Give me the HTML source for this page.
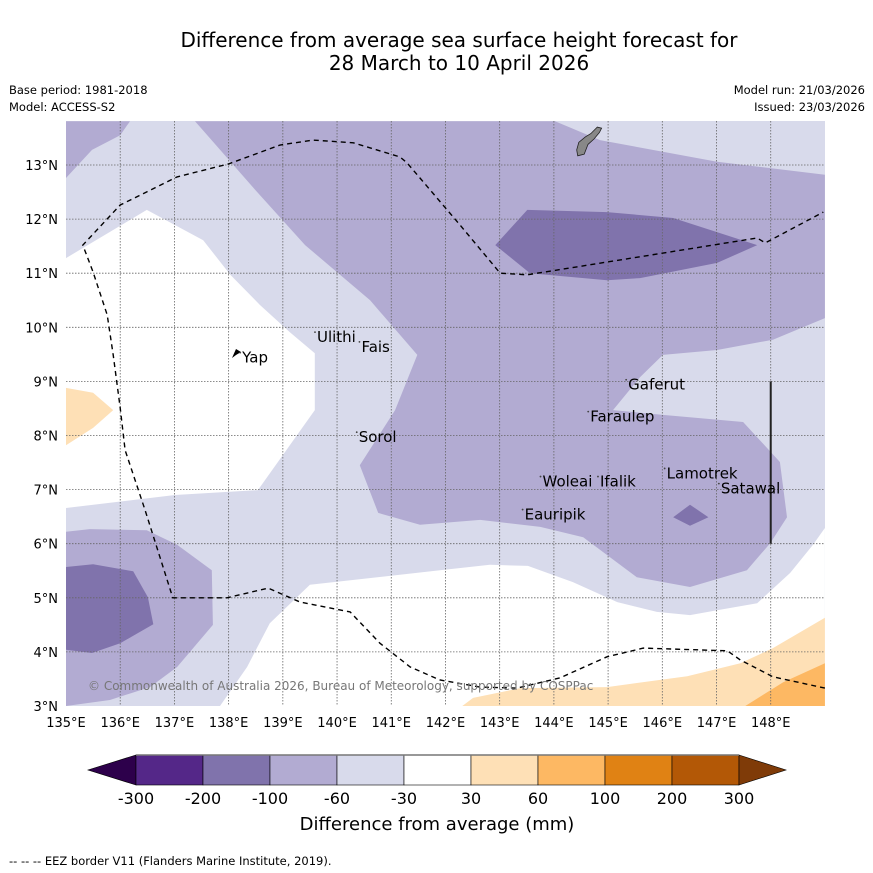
<!DOCTYPE html>
<html><head><meta charset="utf-8"><style>
body{margin:0;background:#fff;font-family:"Liberation Sans","DejaVu Sans",sans-serif;}
svg{display:block}
</style></head><body>
<svg id="chart" width="873" height="873" viewBox="0 0 873 873" font-family="DejaVu Sans, Liberation Sans, sans-serif">
<text x="459" y="47" text-anchor="middle" font-size="20">Difference from average sea surface height forecast for</text>
<text x="459" y="70" text-anchor="middle" font-size="20">28 March to 10 April 2026</text>
<text x="9" y="94" font-size="11.5">Base period: 1981-2018</text>
<text x="9" y="111" font-size="11.5">Model: ACCESS-S2</text>
<text x="865" y="94" font-size="11.5" text-anchor="end">Model run: 21/03/2026</text>
<text x="865" y="111" font-size="11.5" text-anchor="end">Issued: 23/03/2026</text>
<defs><clipPath id="mapclip"><rect x="66" y="121" width="759" height="585"/></clipPath></defs>
<g id="map" clip-path="url(#mapclip)">
<rect x="66" y="121" width="759" height="585" fill="#d8daeb"/>
</g>
<g id="axes"></g>
<g id="cbar"></g>
<text x="437" y="830" text-anchor="middle" font-size="18">Difference from average (mm)</text>
<text x="9" y="865" font-size="11.5">--  --  -- EEZ border V11 (Flanders Marine Institute, 2019).</text>
</svg>
<script>
// Longitude/latitude tick values
const lonTicks = [135,136,137,138,139,140,141,142,143,144,145,146,147,148];
const latTicks = [3,4,5,6,7,8,9,10,11,12,13];
// Colorbar levels
const cbarLevels = ["-300","-200","-100","-60","-30","30","60","100","200","300"];
const cbarColors = ["#542788","#8073ac","#b2abd2","#d8daeb","#ffffff","#fee0b6","#fdb863","#e08214","#b35806"];
// Contour regions [lon,lat]
const medCorner = [[135,13.81],[136.18,13.81],[136,13.55],[135.48,13.28],[135,12.76]];
const medMain = [[137.38,13.81],[144.02,13.81],[144.85,13.46],[147.01,13.06],[149,12.82],[149,10.17],[148.04,9.77],[147.01,9.58],[146.01,9.49],[145.59,9.08],[145.09,8.47],[146.01,8.38],[147.49,8.25],[148.17,7.51],[148.30,6.49],[147.99,6.01],[147.56,5.51],[146.51,5.20],[145.53,5.38],[144.54,6.12],[143.75,6.31],[142.64,6.44],[141.53,6.35],[140.76,6.57],[140.42,7.45],[141.07,8.47],[141.48,9.49],[140.61,10.50],[139.41,11.52],[138.49,12.54]];
const darkTop = [[143.51,12.17],[144.98,12.13],[146.20,12.02],[147.75,11.52],[147.01,11.19],[145.59,10.91],[144.98,10.87],[143.56,11.00],[142.92,11.52]];
const darkDiamond = [[146.20,6.49],[146.51,6.72],[146.85,6.49],[146.51,6.33]];
const medBottomLeft = [[135,6.22],[135.44,6.27],[136.49,6.25],[137.05,5.98],[137.69,5.51],[137.71,4.50],[137.05,3.72],[136.55,3.35],[135.81,3.11],[135,3.0]];
const darkBottomLeft = [[135,5.57],[135.50,5.62],[136.24,5.49],[136.51,5.01],[136.61,4.51],[136.0,4.16],[135.48,3.98],[135,4.04]];
const whiteWest = [[135,11.28],[136.49,12.17],[137.53,11.61],[138.03,10.97],[138.58,10.41],[139.13,9.91],[139.59,9.52],[139.59,8.47],[138.54,6.99],[137.01,6.90],[135,6.66]];
const whiteSouth = [[139.50,5.24],[141.90,5.51],[142.82,5.61],[143.52,5.59],[144.35,5.29],[145.17,4.92],[145.90,4.74],[146.51,4.68],[147.01,4.77],[147.75,4.90],[148.36,5.46],[148.78,5.98],[149,6.29],[149,3],[137.84,3],[138.34,3.72],[138.76,4.53]];
const orangeSE = [[142.31,3],[142.51,3.15],[143.38,3.33],[144.98,3.35],[146.46,3.55],[147.44,3.79],[148.04,4.07],[149,4.63],[149,3]];
const orangeSE2 = [[147.53,3],[148.23,3.44],[149,3.79],[149,3]];
const orangeWest = [[135,8.88],[135.50,8.79],[135.87,8.47],[135.50,8.14],[135,7.82]];
const eezLine = [[149,3.33],[148.04,3.54],[147.44,3.85],[147.20,4.02],[145.65,4.07],[144.98,3.91],[144.11,3.52],[143.32,3.33],[142.64,3.35],[141.90,3.48],[141.35,3.72],[140.79,4.16],[140.24,4.74],[139.32,4.92],[138.73,5.18],[137.97,5.0],[136.97,5.0],[136.46,6.62],[136.09,7.73],[136,8.51],[135.87,9.49],[135.76,10.23],[135.50,11.02],[135.31,11.52],[136,12.26],[137.05,12.78],[138.0,13.02],[138.95,13.37],[139.56,13.46],[140.30,13.41],[141.16,13.15],[141.29,13.04],[142.27,11.89],[143.01,11.0],[143.51,10.97],[147.75,11.65],[147.90,11.56],[148.97,12.13]];
const guam = [[144.44,13.17],[144.56,13.20],[144.63,13.38],[144.74,13.48],[144.84,13.60],[144.88,13.68],[144.80,13.70],[144.68,13.58],[144.58,13.52],[144.46,13.42],[144.42,13.28]];
const places = ["Yap","Ulithi","Fais","Gaferut","Faraulep","Sorol","Woleai","Ifalik","Lamotrek","Satawal","Eauripik"];
const placeLon = [138.25,139.63,140.45,145.37,144.67,140.40,143.79,144.85,146.08,147.08,143.46];
const placeLat = [9.42,9.80,9.62,8.92,8.33,7.95,7.13,7.13,7.28,7.00,6.52];

const NS="http://www.w3.org/2000/svg";
const sx = lon => 66 + (lon-135)*54.21;
const sy = lat => 165 + (13-lat)*54.1;
function mk(tag, attrs, parent){const e=document.createElementNS(NS,tag);for(const k in attrs)e.setAttribute(k,attrs[k]);parent.appendChild(e);return e;}
const map=document.getElementById('map');
function poly(pts, fill, name){
  const e=mk('polygon',{points:pts.map(p=>sx(p[0]).toFixed(1)+','+sy(p[1]).toFixed(1)).join(' '),fill:fill},map);
  
  
}
poly(medCorner,'#b2abd2','contour-minus60-corner');
poly(medMain,'#b2abd2','contour-minus60-main');
poly(darkTop,'#8073ac','contour-minus100-north');
poly(darkDiamond,'#8073ac','contour-minus100-small');
poly(medBottomLeft,'#b2abd2','contour-minus60-southwest');
poly(darkBottomLeft,'#8073ac','contour-minus100-southwest');
poly(whiteWest,'#ffffff','contour-neutral-west');
poly(whiteSouth,'#ffffff','contour-neutral-south');
poly(orangeSE,'#fee0b6','contour-plus30-southeast');
poly(orangeSE2,'#fdb863','contour-plus60-southeast');
poly(orangeWest,'#fee0b6','contour-plus30-west');
// gridlines
for(const lon of lonTicks){ if(lon===135) continue;
  const g=mk('line',{x1:sx(lon),x2:sx(lon),y1:121,y2:706,stroke:'#666','stroke-width':0.8,'stroke-dasharray':'1.5,1.5'},map);
  
  
}
for(const lat of latTicks){ if(lat===3) continue;
  const g=mk('line',{x1:66,x2:825,y1:sy(lat),y2:sy(lat),stroke:'#666','stroke-width':0.8,'stroke-dasharray':'1.5,1.5'},map);
  
  
}
// EEZ line
const eez=mk('polyline',{points:eezLine.map(p=>sx(p[0]).toFixed(1)+','+sy(p[1]).toFixed(1)).join(' '),fill:'none',stroke:'#000','stroke-width':1.4,'stroke-dasharray':'5,4'},map);


// vertical line at 148E
const vl=mk('line',{x1:sx(148),x2:sx(148),y1:sy(9),y2:sy(6),stroke:'#222','stroke-width':2},map);


// Guam
const gu=mk('polygon',{points:guam.map(p=>sx(p[0]).toFixed(1)+','+sy(p[1]).toFixed(1)).join(' '),fill:'#888',stroke:'#222','stroke-width':0.8},map);


// Yap island
const yi=mk('polygon',{points:[[232,358],[236,349],[241,352],[236,355]].map(p=>p.join(',')).join(' '),fill:'#000'},map);


// place labels
places.forEach((p,i)=>{
  const d=mk('circle',{cx:sx(placeLon[i])-2,cy:sy(placeLat[i])-6,r:0.9,fill:'#444'},map);
  
  
  const t=mk('text',{x:sx(placeLon[i]),y:sy(placeLat[i])+4,'font-size':15,fill:'#000'},map);
  t.textContent=p;
  
  
});
const cr=mk('text',{x:88,y:690,'font-size':12,fill:'#777'},map);
cr.textContent='© Commonwealth of Australia 2026, Bureau of Meteorology, supported by COSPPac';


// axis labels
const axes=document.getElementById('axes');
for(const lon of lonTicks){
  const t=mk('text',{x:sx(lon),y:727,'font-size':13,'text-anchor':'middle'},axes);
  t.textContent=lon+'°E';
  
  
}
for(const lat of latTicks){
  const t=mk('text',{x:58,y:sy(lat)+5,'font-size':13,'text-anchor':'end'},axes);
  t.textContent=lat+'°N';
  
  
}
// colorbar
const cb=document.getElementById('cbar');
const bx0=136, bw=67, by=755, bh=30;
const lt=mk('polygon',{points:`${bx0},${by} ${bx0},${by+bh} 88,${by+bh/2}`,fill:'#2d004b',stroke:'#000','stroke-width':0.6},cb);


cbarColors.forEach((c,i)=>{
  const r=mk('rect',{x:bx0+i*bw,y:by,width:bw,height:bh,fill:c,stroke:'#000','stroke-width':0.6},cb);
  
  
});
const xe=bx0+cbarColors.length*bw;
const rt=mk('polygon',{points:`${xe},${by} ${xe},${by+bh} 786,${by+bh/2}`,fill:'#7f3b08',stroke:'#000','stroke-width':0.6},cb);


mk('line',{x1:bx0,x2:xe,y1:by,y2:by,stroke:'#777','stroke-width':1.5},cb);
cbarLevels.forEach((l,i)=>{
  const t=mk('text',{x:bx0+i*bw,y:804,'font-size':16,'text-anchor':'middle'},cb);
  t.textContent=l;
  
  
});
</script>
</body></html>
